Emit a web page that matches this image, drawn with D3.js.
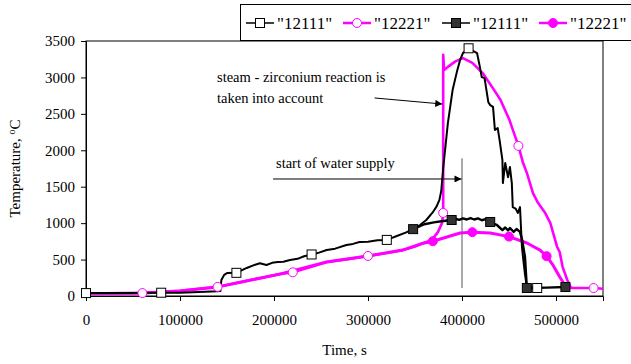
<!DOCTYPE html>
<html>
<head>
<meta charset="utf-8">
<script src="https://cdn.jsdelivr.net/npm/d3@7"></script>
<style>
  body { margin: 0; background: #fff; }
  svg { display: block; font-family: "Liberation Serif", "Times New Roman", serif; }
</style>
</head>
<body>
<svg id="chart"></svg>
<script>
// series values [time s, temperature C]
const open12111 = [[0,40],[40000,42],[80000,45],[100000,45],[120000,55],[140000,65],[143000,70],[144000,220],[147000,290],[150000,315],[160000,318],[171000,385],[180000,430],[185000,450],[192000,425],[198000,455],[204000,467],[210000,470],[217000,494],[225000,510],[232000,545],[240000,570],[248000,595],[256000,631],[265000,650],[277000,700],[284000,715],[291000,741],[300000,745],[310000,765],[320000,770],[330000,820],[340000,870],[348000,918],[355000,970],[362000,1043],[369000,1150],[373000,1230],[376000,1320],[378000,1450],[380000,1757],[385000,2375],[390000,2827],[395000,3100],[398000,3240],[401000,3335],[407000,3400],[416000,3335],[419000,3145],[421000,3005],[424000,2990],[428000,2660],[430000,2620],[433000,2595],[435000,2280],[438000,2305],[440000,2140],[443000,1865],[443500,1550],[446000,1825],[449000,1630],[451000,1770],[453000,1550],[454000,1220],[457000,1200],[459500,1140],[461700,1220],[462700,950],[463800,670],[464900,535],[467000,300],[469000,125],[480000,110]];
const open12111Marks = [[0,40],[80000,45],[160000,318],[240000,570],[320000,770],[407000,3400],[480000,110]];

const filled12111 = [[348000,918],[360000,985],[370000,1010],[380000,1030],[389000,1043],[393000,1060],[397000,1045],[401000,1065],[405000,1050],[409000,1070],[413000,1050],[417000,1065],[421000,1040],[425000,1055],[430000,1016],[434000,990],[437000,975],[440000,940],[443000,905],[446000,940],[449000,900],[451000,933],[455000,880],[458000,920],[461700,880],[464000,768],[467000,535],[469000,110],[490000,115],[510000,123]];
const filled12111Marks = [[348000,918],[389000,1043],[430000,1016],[469000,110],[510000,123]];

const open12221 = [[0,30],[30000,35],[60000,40],[100000,70],[120000,100],[140000,125],[150000,150],[164000,190],[185000,245],[206000,300],[220000,325],[240000,400],[256000,467],[280000,510],[300000,550],[320000,590],[337000,630],[350000,680],[358500,725],[368000,770],[374500,880],[378700,1000],[380000,1140],[380000,3310],[381000,3100],[385000,3145],[393000,3220],[401000,3265],[411000,3200],[422000,3060],[432000,2870],[441000,2690],[450500,2415],[460000,2060],[465000,1825],[469000,1690],[475500,1413],[481000,1275],[488000,1150],[494000,1000],[501000,680],[504000,600],[507000,400],[512000,220],[516000,110],[540000,109],[550000,100]];
const open12221Marks = [[60000,40],[140000,125],[220000,325],[300000,550],[380000,1140],[460000,2060],[540000,109]];

const filled12221 = [[0,30],[60000,40],[100000,70],[140000,125],[164000,190],[206000,300],[256000,467],[300000,550],[337000,630],[358500,725],[366000,740],[369000,752],[384000,810],[398000,865],[411000,876],[430000,865],[450000,815],[469000,727],[483000,630],[490000,547],[497000,420],[504000,260],[511000,120],[516000,110]];
const filled12221Marks = [[369000,752],[411000,876],[450000,815],[490000,547]];

const xTicks = [0, 100000, 200000, 300000, 400000, 500000];
const yTicks = [0, 500, 1000, 1500, 2000, 2500, 3000, 3500];
const legendLabels = ['"12111"', '"12221"', '"12111"', '"12221"'];

const width = 631, height = 364;
const margin = {top: 41, right: 28, bottom: 68, left: 86};

const svg = d3.select("#chart").attr("width", width).attr("height", height);
svg.append("rect").attr("width", width).attr("height", height).attr("fill", "#fff");

const x = d3.scaleLinear().domain([0, 550000]).range([margin.left, width - margin.right]);
const y = d3.scaleLinear().domain([0, 3500]).range([height - margin.bottom, margin.top]);

// frame
svg.append("rect")
  .attr("x", x(0)).attr("y", y(3500))
  .attr("width", x(550000) - x(0)).attr("height", y(0) - y(3500))
  .attr("fill", "none").attr("stroke", "#000").attr("stroke-width", 1);

const xAxis = svg.append("g")
  .attr("transform", `translate(0,${y(0)})`)
  .call(d3.axisBottom(x).tickValues(xTicks).tickFormat(d3.format("d")).tickSize(5).tickPadding(13));
const yAxis = svg.append("g")
  .attr("transform", `translate(${x(0)},0)`)
  .call(d3.axisLeft(y).tickValues(yTicks).tickFormat(d3.format("d")).tickSize(5).tickPadding(6));
[xAxis, yAxis].forEach(g => {
  g.attr("font-family", "Liberation Serif");
  g.select(".domain").attr("stroke", "#000");
  g.selectAll("line").attr("stroke", "#000");
  g.selectAll("text").attr("font-size", 15).attr("fill", "#000");
});

svg.append("text")
  .attr("x", (x(0) + x(550000)) / 2).attr("y", 355)
  .attr("text-anchor", "middle").attr("font-size", 15).text("Time, s");
svg.append("text")
  .attr("transform", `translate(20,${(y(0) + y(3500)) / 2}) rotate(-90)`)
  .attr("text-anchor", "middle").attr("font-size", 15)
  .html('Temperature, <tspan baseline-shift="super" font-size="10">o</tspan>C');

// water supply line
svg.append("line")
  .attr("x1", x(400000)).attr("x2", x(400000))
  .attr("y1", y(1890)).attr("y2", y(110))
  .attr("stroke", "#555").attr("stroke-width", 1);

const line = d3.line().x(d => x(d[0])).y(d => y(d[1]));

svg.append("path").datum(filled12221).attr("d", line)
  .attr("fill", "none").attr("stroke", "#ff00ff").attr("stroke-width", 3).attr("stroke-linejoin", "round");
svg.append("path").datum(open12221).attr("d", line)
  .attr("fill", "none").attr("stroke", "#ff00ff").attr("stroke-width", 2.6).attr("stroke-linejoin", "round");
svg.append("path").datum(filled12111).attr("d", line)
  .attr("fill", "none").attr("stroke", "#000").attr("stroke-width", 2.4).attr("stroke-linejoin", "round");
svg.append("path").datum(open12111).attr("d", line)
  .attr("fill", "none").attr("stroke", "#000").attr("stroke-width", 2).attr("stroke-linejoin", "round");

function squares(data, fill) {
  svg.append("g").selectAll("rect").data(data).join("rect")
    .attr("x", d => x(d[0]) - 4.5).attr("y", d => y(d[1]) - 4.5)
    .attr("width", 9).attr("height", 9)
    .attr("fill", fill).attr("stroke", "#000").attr("stroke-width", 1);
}
function circles(data, fill) {
  svg.append("g").selectAll("circle").data(data).join("circle")
    .attr("cx", d => x(d[0])).attr("cy", d => y(d[1])).attr("r", 4.5)
    .attr("fill", fill).attr("stroke", "#ff00ff").attr("stroke-width", 1);
}
circles(open12221Marks, "#fff");
circles(filled12221Marks, "#ff00ff");
squares(filled12111Marks, "#333");
squares(open12111Marks, "#fff");

// annotations
svg.append("defs").append("marker")
  .attr("id", "arrow").attr("viewBox", "0 0 10 10").attr("refX", 10).attr("refY", 5)
  .attr("markerWidth", 9).attr("markerHeight", 7).attr("markerUnits", "userSpaceOnUse")
  .attr("orient", "auto")
  .append("path").attr("d", "M0,0L10,5L0,10Z").attr("fill", "#000");

svg.append("text").attr("x", 217).attr("y", 82).attr("font-size", 14.5).text("steam - zirconium reaction is");
svg.append("text").attr("x", 217).attr("y", 103).attr("font-size", 14.5).text("taken into account");
svg.append("line")
  .attr("x1", x(307000)).attr("y1", y(2718)).attr("x2", x(379000)).attr("y2", y(2635))
  .attr("stroke", "#000").attr("stroke-width", 1).attr("marker-end", "url(#arrow)");

svg.append("text").attr("x", 276).attr("y", 168).attr("font-size", 14.5).text("start of water supply");
svg.append("line")
  .attr("x1", x(199000)).attr("y1", y(1606)).attr("x2", x(399500)).attr("y2", y(1606))
  .attr("stroke", "#000").attr("stroke-width", 1).attr("marker-end", "url(#arrow)");

// legend
const legend = svg.append("g");
legend.append("rect").attr("x", 240.5).attr("y", 4.5).attr("width", 400).attr("height", 36)
  .attr("fill", "#fff").attr("stroke", "#000").attr("stroke-width", 1);
const legendX = [246, 343, 442, 539];
const legendStyle = [
  {stroke: "#000", shape: "square", fill: "#fff"},
  {stroke: "#ff00ff", shape: "circle", fill: "#fff"},
  {stroke: "#000", shape: "square", fill: "#333"},
  {stroke: "#ff00ff", shape: "circle", fill: "#ff00ff"}
];
legendLabels.forEach((lab, i) => {
  const g = legend.append("g").attr("transform", `translate(${legendX[i]},23)`);
  const s = legendStyle[i];
  g.append("line").attr("x1", 0).attr("x2", 28).attr("stroke", s.stroke).attr("stroke-width", s.stroke === "#000" ? 1.5 : 2.5);
  if (s.shape === "square") {
    g.append("rect").attr("x", 9.5).attr("y", -4.5).attr("width", 9).attr("height", 9)
      .attr("fill", s.fill).attr("stroke", "#000");
  } else {
    g.append("circle").attr("cx", 14).attr("r", 4.5).attr("fill", s.fill).attr("stroke", "#ff00ff");
  }
  g.append("text").attr("x", 31).attr("y", 5.5).attr("font-size", 17).text(lab);
});
</script>
</body>
</html>
